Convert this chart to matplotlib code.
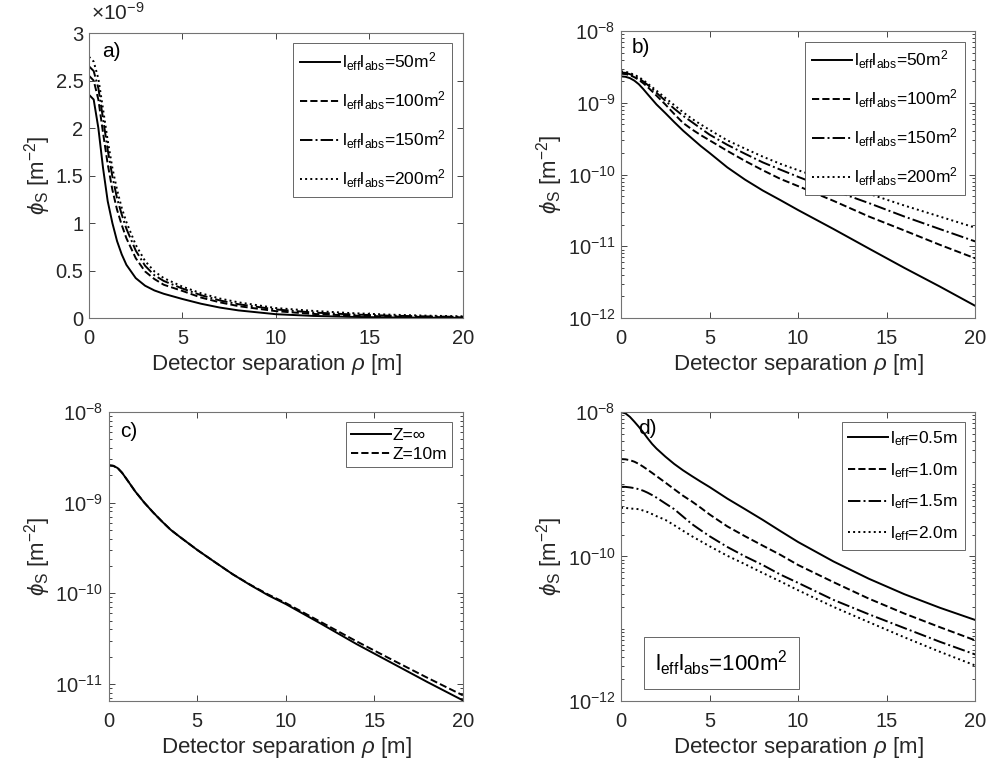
import numpy as np
import matplotlib
matplotlib.use('Agg')
import matplotlib.pyplot as plt
from matplotlib.ticker import FixedLocator, LogLocator, NullFormatter, FuncFormatter

plt.rcParams['font.family'] = ['Liberation Sans', 'DejaVu Sans']
plt.rcParams['mathtext.fontset'] = 'custom'
plt.rcParams['mathtext.rm'] = 'Liberation Sans'
plt.rcParams['mathtext.it'] = 'Liberation Sans:italic'
plt.rcParams['axes.linewidth'] = 0.8

# Detector separation rho [m], linear panel a)
rho_a = [0, 0.25, 0.5, 0.75, 1, 1.25, 1.5, 1.75, 2, 2.5, 3, 3.5, 4, 5, 6, 7, 8, 10, 12, 14, 16, 18, 20]

# a) linear panel, l_eff*l_abs = 50/100/150/200 m^2
a_50 = [2.35e-9, 2.30e-9, 2.00e-9, 1.58e-9, 1.23e-9, 1.00e-9, 0.81e-9, 0.67e-9, 0.56e-9, 0.42e-9, 0.34e-9,
        0.29e-9, 0.255e-9, 0.20e-9, 0.15e-9, 0.11e-9, 0.08e-9, 0.040e-9, 0.022e-9, 0.012e-9, 0.0065e-9,
        0.0035e-9, 0.0018e-9]
a_100 = [2.55e-9, 2.50e-9, 2.30e-9, 1.95e-9, 1.62e-9, 1.35e-9, 1.14e-9, 0.98e-9, 0.84e-9, 0.63e-9, 0.49e-9,
         0.41e-9, 0.35e-9, 0.285e-9, 0.215e-9, 0.165e-9, 0.125e-9, 0.072e-9, 0.043e-9, 0.026e-9, 0.0165e-9,
         0.0105e-9, 0.0068e-9]
a_150 = [2.65e-9, 2.60e-9, 2.42e-9, 2.10e-9, 1.77e-9, 1.49e-9, 1.26e-9, 1.09e-9, 0.94e-9, 0.71e-9, 0.55e-9,
         0.45e-9, 0.39e-9, 0.31e-9, 0.24e-9, 0.185e-9, 0.145e-9, 0.090e-9, 0.058e-9, 0.038e-9, 0.025e-9,
         0.017e-9, 0.0115e-9]
a_200 = [2.75e-9, 2.70e-9, 2.52e-9, 2.20e-9, 1.87e-9, 1.58e-9, 1.35e-9, 1.16e-9, 1.01e-9, 0.77e-9, 0.60e-9,
         0.49e-9, 0.42e-9, 0.33e-9, 0.26e-9, 0.205e-9, 0.165e-9, 0.105e-9, 0.075e-9, 0.052e-9, 0.036e-9,
         0.025e-9, 0.018e-9]

# Detector separation rho [m], log panels b) c) d)
rho = [0, 0.25, 0.5, 0.75, 1, 1.25, 1.5, 1.75, 2, 2.5, 3, 3.5, 4, 4.5, 5, 6, 7, 8, 9, 10, 12, 14, 16, 18, 20]

# b) log panel, same cases
b_50 = [2.34e-9, 2.31e-9, 2.21e-9, 2.04e-9, 1.82e-9, 1.56e-9, 1.32e-9, 1.12e-9, 9.5e-10, 7.2e-10, 5.4e-10,
        4.1e-10, 3.2e-10, 2.5e-10, 2.0e-10, 1.26e-10, 8.5e-11, 6.0e-11, 4.4e-11, 3.2e-11, 1.74e-11, 9.3e-12,
        5.0e-12, 2.75e-12, 1.48e-12]
b_100 = [2.55e-9, 2.52e-9, 2.43e-9, 2.28e-9, 2.09e-9, 1.88e-9, 1.66e-9, 1.45e-9, 1.26e-9, 9.5e-10, 7.0e-10,
         5.25e-10, 4.27e-10, 3.55e-10, 3.0e-10, 2.14e-10, 1.55e-10, 1.15e-10, 8.7e-11, 6.9e-11, 4.3e-11,
         2.6e-11, 1.66e-11, 1.05e-11, 6.8e-12]
b_150 = [2.65e-9, 2.62e-9, 2.51e-9, 2.37e-9, 2.19e-9, 1.99e-9, 1.78e-9, 1.58e-9, 1.38e-9, 1.07e-9, 8.3e-10,
         6.6e-10, 5.4e-10, 4.4e-10, 3.6e-10, 2.6e-10, 1.95e-10, 1.48e-10, 1.17e-10, 9.3e-11, 6.0e-11, 4.0e-11,
         2.6e-11, 1.74e-11, 1.17e-11]
b_200 = [2.75e-9, 2.72e-9, 2.6e-9, 2.46e-9, 2.29e-9, 2.08e-9, 1.86e-9, 1.66e-9, 1.48e-9, 1.17e-9, 9.3e-10,
         7.4e-10, 6.0e-10, 5.0e-10, 4.2e-10, 3.0e-10, 2.3e-10, 1.78e-10, 1.41e-10, 1.15e-10, 7.8e-11, 5.4e-11,
         3.7e-11, 2.6e-11, 1.82e-11]

# c) Z = infinity vs Z = 10 m
c_inf = [2.57e-9, 2.54e-9, 2.40e-9, 2.13e-9, 1.82e-9, 1.55e-9, 1.32e-9, 1.15e-9, 1.0e-9, 7.8e-10, 6.2e-10,
         5.0e-10, 4.2e-10, 3.55e-10, 3.0e-10, 2.2e-10, 1.62e-10, 1.23e-10, 9.5e-11, 7.6e-11, 4.6e-11,
         2.75e-11, 1.7e-11, 1.05e-11, 6.6e-12]
c_10 = [2.57e-9, 2.54e-9, 2.40e-9, 2.13e-9, 1.82e-9, 1.55e-9, 1.32e-9, 1.15e-9, 1.0e-9, 7.8e-10, 6.2e-10,
        5.0e-10, 4.2e-10, 3.55e-10, 3.0e-10, 2.2e-10, 1.62e-10, 1.24e-10, 9.7e-11, 7.8e-11, 4.8e-11,
        2.95e-11, 1.85e-11, 1.17e-11, 7.5e-12]

# d) l_eff = 0.5/1.0/1.5/2.0 m at l_eff*l_abs = 100 m^2
d_05 = [9.9e-9, 9.5e-9, 8.5e-9, 7.3e-9, 6.2e-9, 5.2e-9, 4.3e-9, 3.6e-9, 3.1e-9, 2.4e-9, 1.9e-9, 1.55e-9,
        1.29e-9, 1.08e-9, 9.1e-10, 6.3e-10, 4.5e-10, 3.2e-10, 2.24e-10, 1.58e-10, 8.5e-11, 4.9e-11, 3.0e-11,
        1.95e-11, 1.32e-11]
d_10 = [2.22e-9, 2.20e-9, 2.14e-9, 2.04e-9, 1.9e-9, 1.74e-9, 1.58e-9, 1.43e-9, 1.29e-9, 1.05e-9, 8.5e-10,
        6.9e-10, 5.75e-10, 4.7e-10, 3.8e-10, 2.6e-10, 1.9e-10, 1.41e-10, 1.05e-10, 7.6e-11, 4.4e-11, 2.6e-11,
        1.62e-11, 1.05e-11, 6.9e-12]
d_15 = [9.2e-10, 9.15e-10, 9.0e-10, 8.8e-10, 8.5e-10, 8.1e-10, 7.6e-10, 7.05e-10, 6.5e-10, 5.4e-10, 4.5e-10,
        3.55e-10, 2.8e-10, 2.3e-10, 1.9e-10, 1.35e-10, 1.0e-10, 7.6e-11, 5.6e-11, 4.3e-11, 2.5e-11, 1.58e-11,
        1.02e-11, 6.6e-12, 4.4e-12]
d_20 = [4.7e-10, 4.68e-10, 4.6e-10, 4.55e-10, 4.5e-10, 4.3e-10, 4.1e-10, 3.85e-10, 3.6e-10, 3.2e-10, 2.7e-10,
        2.26e-10, 1.9e-10, 1.62e-10, 1.38e-10, 1.02e-10, 7.8e-11, 5.9e-11, 4.5e-11, 3.4e-11, 2.0e-11, 1.23e-11,
        7.6e-12, 4.8e-12, 3.1e-12]

prod_labels = ['l$_{\\rm eff}$l$_{\\rm abs}$=50m$^2$', 'l$_{\\rm eff}$l$_{\\rm abs}$=100m$^2$',
               'l$_{\\rm eff}$l$_{\\rm abs}$=150m$^2$', 'l$_{\\rm eff}$l$_{\\rm abs}$=200m$^2$']
z_labels = ['Z=\u221e', 'Z=10m']
leff_labels = ['l$_{\\rm eff}$=0.5m', 'l$_{\\rm eff}$=1.0m', 'l$_{\\rm eff}$=1.5m', 'l$_{\\rm eff}$=2.0m']
styles = ['-', '--', '-.', ':']

fig = plt.figure(figsize=(9.89, 7.65), dpi=100)
ax_a = fig.add_axes([0.090, 0.5843, 0.378, 0.3725])
ax_b = fig.add_axes([0.628, 0.5843, 0.358, 0.375])
ax_c = fig.add_axes([0.110, 0.0837, 0.358, 0.378])
ax_d = fig.add_axes([0.628, 0.0837, 0.358, 0.378])

lw = 1.4
for ys, ls, lab in zip([a_50, a_100, a_150, a_200], styles, prod_labels):
    ax_a.plot(rho_a, ys, ls, color='k', lw=lw, label=lab)
for ys, ls, lab in zip([b_50, b_100, b_150, b_200], styles, prod_labels):
    ax_b.plot(rho, ys, ls, color='k', lw=lw, label=lab)
for ys, ls, lab in zip([c_inf, c_10], styles, z_labels):
    ax_c.plot(rho, ys, ls, color='k', lw=lw, label=lab)
for ys, ls, lab in zip([d_05, d_10, d_15, d_20], styles, leff_labels):
    ax_d.plot(rho, ys, ls, color='k', lw=lw, label=lab)

# linear panel: MATLAB style exponent
ax_a.set_ylim(0, 3e-9)
ax_a.yaxis.set_major_locator(FixedLocator(np.arange(0, 3.01, 0.5) * 1e-9))
ax_a.yaxis.set_major_formatter(FuncFormatter(lambda v, _: f'{v / 1e-9:g}'))
ax_a.text(0.005, 1.045, '\u00d710$^{-9}$', transform=ax_a.transAxes, fontsize=15, color='0.15',
          ha='left', va='baseline')

ax_b.set_yscale('log')
ax_b.set_ylim(1e-12, 1e-8)
ax_b.yaxis.set_major_locator(FixedLocator([1e-12, 1e-11, 1e-10, 1e-9, 1e-8]))

ax_c.set_yscale('log')
ax_c.set_ylim(6.5e-12, 1e-8)
ax_c.yaxis.set_major_locator(FixedLocator([1e-11, 1e-10, 1e-9, 1e-8]))

ax_d.set_yscale('log')
ax_d.set_ylim(1e-12, 1e-8)
ax_d.yaxis.set_major_locator(FixedLocator([1e-12, 1e-10, 1e-8]))

for ax in [ax_b, ax_c, ax_d]:
    ax.yaxis.set_minor_locator(LogLocator(base=10, subs=np.arange(1, 10), numticks=20))
    ax.yaxis.set_minor_formatter(NullFormatter())

tag_pos = {'a)': (0.035, 0.97), 'b)': (0.031, 0.975), 'c)': (0.031, 0.965), 'd)': (0.048, 0.975)}
for ax, tag in zip([ax_a, ax_b, ax_c, ax_d], ['a)', 'b)', 'c)', 'd)']):
    ax.set_xlim(0, 20)
    ax.set_xticks([0, 5, 10, 15, 20])
    ax.tick_params(which='both', direction='in', top=True, right=True, labelsize=14.5,
                   colors='0.15', width=0.6)
    ax.tick_params(axis='x', which='major', pad=8)
    ax.tick_params(axis='y', which='major', pad=4)
    ax.tick_params(which='major', length=4.5)
    ax.tick_params(which='minor', length=2.5)
    for sp in ax.spines.values():
        sp.set_color('0.45')
    ax.set_xlabel('Detector separation $\\rho$ [m]', fontsize=16, color='0.15', labelpad=3)
    ax.set_ylabel('$\\phi_{\\rm S}$ [m$^{-2}$]', fontsize=16, color='0.15', labelpad=2)
    ax.text(tag_pos[tag][0], tag_pos[tag][1], tag, transform=ax.transAxes, fontsize=15,
            va='top', ha='left')

leg_kw = dict(loc='upper right', fontsize=12.5, frameon=True, fancybox=False, framealpha=1,
              edgecolor='0.3', handlelength=2.3, handletextpad=0.1, borderaxespad=0.6,
              borderpad=0.4)
for ax in [ax_a, ax_b]:
    leg = ax.legend(labelspacing=0.95, **leg_kw)
    leg.get_frame().set_linewidth(0.6)
leg_kw['borderpad'] = 0.3
leg = ax_c.legend(labelspacing=0.25, **leg_kw)
leg.get_frame().set_linewidth(0.6)
leg_kw['borderpad'] = 0.4
leg = ax_d.legend(labelspacing=0.75, **leg_kw)
leg.get_frame().set_linewidth(0.6)

ax_d.text(0.097, 0.131, 'l$_{\\rm eff}$l$_{\\rm abs}$=100m$^2$', transform=ax_d.transAxes,
          fontsize=16, va='center', ha='left',
          bbox=dict(boxstyle='square,pad=0.5', fc='white', ec='0.3', lw=0.6))

fig.savefig('out.png', dpi=100)
